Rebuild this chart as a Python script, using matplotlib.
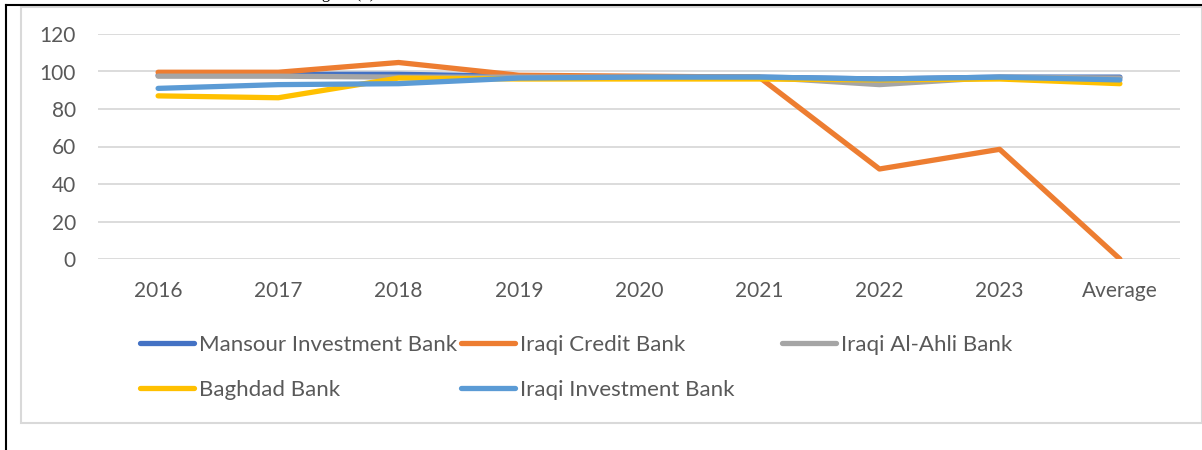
import matplotlib
matplotlib.use("Agg")
import matplotlib.pyplot as plt
from matplotlib.patches import Rectangle
from matplotlib.lines import Line2D

categories = ["2016", "2017", "2018", "2019", "2020", "2021", "2022", "2023", "Average"]
mansour = [98.0, 98.5, 98.5, 97.5, 97.0, 97.0, 96.0, 97.0, 97.0]
iraqi_credit = [99.6, 99.6, 104.8, 98.0, 97.5, 97.0, 48.0, 58.5, 0.0]
al_ahli = [97.5, 97.5, 97.0, 97.0, 97.0, 97.0, 93.0, 97.0, 96.5]
baghdad = [87.0, 86.0, 96.5, 96.0, 96.0, 96.0, 95.5, 96.0, 93.5]
iraqi_invest = [91.0, 93.0, 93.5, 96.5, 97.0, 97.0, 96.0, 97.0, 95.5]

series = [
    ("Mansour Investment Bank", mansour, "#4472C4"),
    ("Iraqi Credit Bank", iraqi_credit, "#ED7D31"),
    ("Iraqi Al-Ahli Bank", al_ahli, "#A5A5A5"),
    ("Baghdad Bank", baghdad, "#FFC000"),
    ("Iraqi Investment Bank", iraqi_invest, "#5B9BD5"),
]
yticks = [0, 20, 40, 60, 80, 100, 120]

W, H = 1202, 450
fig = plt.figure(figsize=(W / 100, H / 100), dpi=100)
font = "Lato"
tc = "#595959"

# chart area border
fig.patches.append(Rectangle((21 / W, 1 - 423 / H), (W - 21) / W, (423 - 7) / H,
                             transform=fig.transFigure, fill=False,
                             edgecolor="#D9D9D9", linewidth=1.5))
# document black lines
fig.add_artist(Line2D([6 / W, 1], [1 - 4.5 / H, 1 - 4.5 / H], transform=fig.transFigure,
                      color="black", linewidth=1.5))
fig.add_artist(Line2D([6 / W, 6 / W], [0, 1 - 4.5 / H], transform=fig.transFigure,
                      color="black", linewidth=1.5))
fig.text(308 / W, 1 + 1.5 / H, "Figure (1)", family="Liberation Serif", fontsize=12,
         ha="left", va="baseline", color="black")

ax = fig.add_axes([98 / W, 1 - 259 / H, (1180 - 98) / W, (259 - 34) / H])
x = list(range(len(categories)))
for name, vals, col in series:
    ax.plot(x, vals, color=col, linewidth=3.8, label=name, solid_capstyle="round",
            solid_joinstyle="round")

ax.set_xlim(-0.5, len(categories) - 0.5)
ax.set_ylim(0, 120)
ax.set_yticks(yticks)
ax.set_xticks(x)
ax.set_xticklabels(categories)
ax.grid(axis="y", color="#D9D9D9", linewidth=1.3)
ax.set_axisbelow(True)
for s in ax.spines.values():
    s.set_visible(False)
ax.tick_params(axis="both", length=0, labelsize=15, labelcolor=tc)
ax.tick_params(axis="y", pad=16)
ax.tick_params(axis="x", pad=15.5)
for lab in ax.get_xticklabels() + ax.get_yticklabels():
    lab.set_family(font)

# legend laid out row by row, in fixed-width columns
col_x = [140, 461, 782]
row_y = [345, 390]
for i, (name, _, col) in enumerate(series):
    r, c = divmod(i, 3)
    h = [Line2D([0], [0], color=col, linewidth=3.8, solid_capstyle="round")]
    leg = fig.legend(h, [name], loc="center left",
                     bbox_to_anchor=(col_x[c] / W, 1 - row_y[r] / H),
                     frameon=False, prop={"family": font, "size": 16},
                     handlelength=2.45, handletextpad=0.2, borderpad=0, borderaxespad=0)
    for t in leg.get_texts():
        t.set_color(tc)

fig.savefig("out.png", dpi=100)
